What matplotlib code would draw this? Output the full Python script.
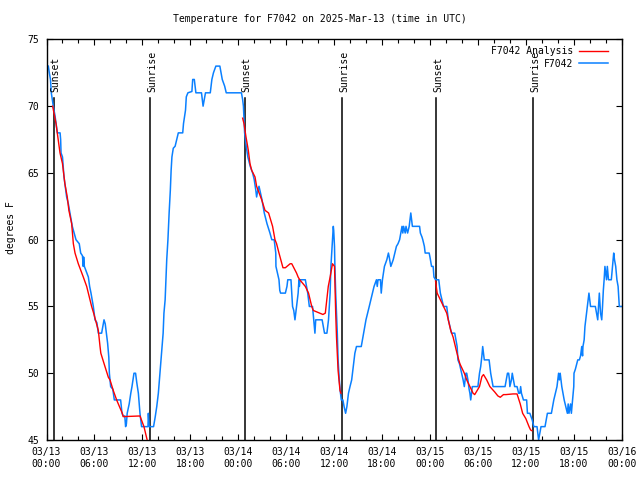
import matplotlib
matplotlib.use("Agg")
import matplotlib.pyplot as plt
import numpy as np

plt.rcParams['font.family'] = ['DejaVu Sans Mono']

title = "Temperature for F7042 on 2025-Mar-13 (time in UTC)"
tick_hours = [0, 6, 12, 18, 24, 30, 36, 42, 48, 54, 60, 66, 72]
tick_labels = ["03/13\n00:00", "03/13\n06:00", "03/13\n12:00", "03/13\n18:00",
               "03/14\n00:00", "03/14\n06:00", "03/14\n12:00", "03/14\n18:00",
               "03/15\n00:00", "03/15\n06:00", "03/15\n12:00", "03/15\n18:00",
               "03/16\n00:00"]
sun_hours = [0.91, 13.0, 24.79, 37.04, 48.79, 60.91]
sun_labels = ["Sunset", "Sunrise", "Sunset", "Sunrise", "Sunset", "Sunrise"]

obs_h = [0.23,0.35,0.5,0.6,0.73,0.85,1.06,1.36,1.7,1.77,1.82,2.0,2.19,2.52,2.73,2.94,3.23,3.69,4.1,4.28,4.5,4.6,4.65,4.74,5.24,5.4,5.57,5.86,6.07,6.3,6.49,6.9,7.05,7.2,7.35,7.45,7.65,7.8,7.87,8.03,8.3,8.49,9.28,9.45,9.6,9.8,9.9,10.0,10.1,10.35,10.55,10.7,10.95,11.15,11.3,11.5,11.7,11.8,11.9,12.7,12.75,12.85,13.4,13.6,13.8,14.0,14.2,14.4,14.6,14.7,14.85,14.95,15.05,15.2,15.35,15.5,15.6,15.7,15.87,16.1,16.3,16.5,17.05,17.15,17.4,17.5,17.7,18.2,18.3,18.5,18.7,19.4,19.5,19.6,19.75,19.9,20.5,20.6,20.7,20.9,21.2,21.7,21.85,22.0,22.3,22.5,24.4,
         24.55,24.65,24.72,24.8,24.9,25.0,25.2,25.5,25.8,26.0,26.2,26.3,26.45,26.6,26.75,26.97,27.26,27.6,27.97,28.2,28.5,28.7,28.72,29.1,29.2,29.3,29.9,30.1,30.2,30.6,30.7,30.8,30.95,31.1,31.2,31.3,31.4,31.5,31.6,31.65,31.75,32.4,32.55,32.7,32.9,33.3,33.45,33.6,33.7,34.5,34.65,34.8,35.1,35.2,35.3,35.4,35.5,35.6,35.7,35.8,35.9,35.95,36.05,36.1,36.2,36.3,36.4,36.5,36.65,36.8,36.9,37.1,37.25,37.44,37.6,37.8,37.99,38.2,38.4,38.6,38.8,39.4,39.55,39.7,39.85,39.99,40.2,40.4,40.6,40.8,41.0,41.3,41.4,41.5,41.8,41.9,42.05,42.3,42.6,42.8,42.9,43.1,43.4,43.6,43.8,44.0,44.2,44.35,44.5,44.6,44.7,44.9,45.0,45.2,45.4,45.5,45.6,45.7,45.8,46.7,46.8,47.0,47.1,47.3,47.4,47.9,48.0,
         48.2,48.4,48.5,48.7,49.1,49.2,49.3,49.5,49.7,50.1,50.2,50.3,50.5,50.7,51.1,51.25,51.4,51.5,51.7,51.96,52.15,52.3,52.4,52.5,52.6,52.75,52.9,53.0,53.1,53.2,53.3,54.0,54.2,54.35,54.5,54.6,54.7,54.8,55.4,55.5,55.6,55.75,55.9,57.4,57.55,57.7,57.85,57.95,58.0,58.2,58.3,58.45,58.6,58.9,59.1,59.25,59.35,59.45,59.7,60.1,60.2,60.5,60.8,61.0,61.4,61.5,61.6,61.75,61.9,62.4,62.55,62.7,63.2,63.35,63.5,63.7,63.9,64.0,64.1,64.2,64.3,64.4,64.5,64.65,64.8,65.0,65.2,65.3,65.4,65.6,65.7,65.85,66.0,66.03,66.2,66.5,66.7,66.85,67.0,67.1,67.15,67.3,67.4,67.5,67.65,67.8,67.9,68.0,68.1,68.7,68.85,69.0,69.1,69.2,69.35,69.5,69.6,69.7,69.8,69.9,70.0,70.1,70.2,70.35,70.7,70.85,71.0,71.1,71.25,71.4,71.55,71.7,72.0]
obs_t = [73.0,72.5,72.0,71.0,70.5,70.0,69.3,68.0,68.0,67.5,66.5,66.2,64.7,63.2,62.7,62.0,61.0,60.0,59.7,59.0,58.8,58.0,58.7,58.0,57.2,56.5,56.0,55.0,54.0,53.8,53.0,53.0,53.5,54.0,53.7,53.2,52.25,51.2,50.0,49.0,48.8,48.0,48.0,47.0,46.8,46.8,46.0,46.2,47.0,47.7,48.5,49.0,50.0,50.0,49.3,48.5,47.0,46.5,46.0,46.0,47.0,46.0,46.0,46.7,47.5,48.5,50.0,51.5,53.0,54.5,55.5,57.0,58.5,60.0,62.0,63.7,65.2,66.2,66.85,67.0,67.5,68.0,68.0,68.7,69.7,70.7,71.0,71.1,72.0,72.0,71.0,71.0,70.5,70.0,70.5,71.0,71.0,71.5,72.0,72.5,73.0,73.0,72.5,72.0,71.5,71.0,71.0,
         70.5,70.0,69.0,68.0,67.5,67.0,66.2,65.5,65.0,64.5,63.7,63.2,63.7,64.0,63.6,63.0,62.0,61.2,60.5,60.0,60.0,59.0,58.0,57.0,56.2,56.0,56.0,56.5,57.0,57.0,56.0,55.0,54.7,54.0,54.5,55.0,55.5,56.0,57.0,56.5,57.0,57.0,56.5,56.0,55.0,55.0,54.0,53.0,54.0,54.0,53.5,53.0,53.0,53.5,54.0,55.0,56.0,58.0,59.0,60.0,61.0,60.7,59.5,58.0,56.0,54.5,53.0,51.0,49.5,48.5,48.0,48.0,47.5,47.0,47.5,48.5,49.0,49.5,50.5,51.5,52.0,52.0,52.5,53.0,53.5,54.0,54.5,55.0,55.5,56.0,56.5,57.0,56.5,57.0,57.0,56.0,57.0,58.0,58.5,59.0,58.7,58.0,58.5,59.0,59.5,59.7,60.0,60.5,61.0,60.5,61.0,60.5,61.0,60.5,61.0,61.5,62.0,61.5,61.0,61.0,60.5,60.2,60.0,59.5,59.0,59.0,58.7,
         58.0,58.0,57.2,57.0,57.0,56.5,56.0,55.5,55.0,55.0,54.5,54.0,53.5,53.0,53.0,52.5,52.0,51.0,50.7,50.0,49.5,49.0,49.5,50.0,50.0,49.5,48.8,48.5,48.0,48.5,49.0,49.0,50.0,50.5,51.3,52.0,51.5,51.0,51.0,50.5,50.0,49.5,49.0,49.0,49.5,50.0,50.0,49.5,49.0,49.5,50.0,49.5,49.0,49.0,48.5,48.5,49.0,48.5,48.0,48.0,47.0,47.0,46.5,46.0,46.0,45.5,45.0,45.5,46.0,46.0,46.5,47.0,47.0,47.5,48.0,48.5,49.0,49.5,50.0,49.5,50.0,49.5,49.0,48.5,48.0,47.5,47.0,47.7,47.0,47.7,47.0,48.0,49.0,50.0,50.3,51.0,51.0,51.3,52.0,51.3,52.0,52.5,53.5,54.0,54.8,55.5,56.0,55.5,55.0,55.0,54.5,54.0,55.0,56.0,54.5,54.0,55.0,56.2,57.0,58.0,57.5,57.0,58.0,57.0,57.0,58.0,59.0,58.5,58.0,57.0,56.5,55.0,55.0]

an1_h = [0.77,1.19,1.69,2.0,2.1,2.3,2.6,2.8,3.15,3.36,3.57,3.98,4.61,5.03,5.65,5.9,6.49,6.7,6.8,7.32,7.74,7.95,8.36,8.78,8.99,9.49,9.6,11.7,12.2,12.5,12.6,12.75]
an1_t = [70.0,68.7,66.5,65.7,65.2,64.2,63.2,62.2,61.2,59.7,59.0,58.2,57.2,56.5,55.0,54.5,53.2,52.0,51.5,50.5,49.7,49.5,48.7,48.0,47.7,47.0,46.75,46.8,46.0,45.25,45.0,44.7]
an2_h = [24.55,24.72,24.97,25.26,25.47,25.68,26.1,26.3,26.93,27.35,27.8,28.3,28.6,28.8,29.1,29.6,29.9,30.1,30.5,30.7,31.3,31.5,31.7,32.4,32.8,33.2,33.4,34.2,34.6,34.9,35.27,35.5,35.8,36.05,36.2,36.3,36.5,36.74,36.86]
an2_t = [69.1,68.7,67.7,66.7,65.7,65.2,64.7,64.0,63.0,62.2,62.0,61.0,60.0,59.7,59.0,57.9,57.9,58.0,58.2,58.2,57.5,57.2,57.0,56.5,56.0,55.0,54.7,54.5,54.4,54.5,56.5,57.2,58.2,58.0,54.5,52.7,50.2,48.7,48.5]
an3_h = [48.7,48.9,49.7,50.1,50.6,50.9,51.3,51.6,51.75,52.3,52.6,53.0,53.4,53.6,54.2,54.5,54.7,55.1,55.5,56.1,56.5,56.8,57.2,57.5,58.4,58.9,59.3,59.6,60.0,60.4,60.6,60.75]
an3_t = [56.9,56.0,55.0,54.5,53.2,52.7,51.7,51.0,50.7,50.0,49.5,49.0,48.5,48.4,49.0,49.75,49.9,49.5,49.0,48.6,48.3,48.2,48.4,48.4,48.45,48.45,47.7,47.0,46.6,46.0,45.75,45.7]

RED = '#ff0000'
BLUE = '#0a80ff'

fig = plt.figure(figsize=(6.4, 4.8), dpi=100)
ax = fig.add_axes([46.5/640, 40/480, (621.7-46.5)/640, (440-39.4)/480])

for sh, sl in zip(sun_hours, sun_labels):
    ax.plot([sh, sh], [0, 0.8525], color='black', lw=1.1,
            transform=ax.get_xaxis_transform(), zorder=1)
    ax.text(sh + 0.25, 0.8675, sl, rotation=90, ha='center', va='bottom',
            fontsize=7, transform=ax.get_xaxis_transform())

ax.plot(obs_h, obs_t, color=BLUE, lw=1.1, zorder=2)
l1, = ax.plot(an1_h, an1_t, color=RED, lw=1.0, zorder=3)
ax.plot(an2_h, an2_t, color=RED, lw=1.0, zorder=3)
ax.plot(an3_h, an3_t, color=RED, lw=1.0, zorder=3)
l2, = ax.plot([], [], color=BLUE, lw=1.1)

ax.set_xlim(0, 72)
ax.set_ylim(45, 75)
ax.set_xticks(tick_hours)
ax.set_xticklabels(tick_labels, fontsize=7)
ax.set_xticks(np.arange(0, 73, 2), minor=True)
ax.set_yticks([45, 50, 55, 60, 65, 70, 75])
ax.set_yticklabels(['45', '50', '55', '60', '65', '70', '75'], fontsize=7)
ax.tick_params(which='both', direction='in', top=True, right=True, width=0.8)
ax.tick_params(which='major', length=4, pad=5)
ax.tick_params(which='minor', length=3)
for s in ax.spines.values():
    s.set_linewidth(1.0)

fig.text(11/640, 1 - 228/480, 'degrees F', rotation=90, ha='center', va='center', fontsize=7)
fig.text(0.5, 1 - 19/480, title, ha='center', va='center', fontsize=7)

leg = ax.legend([l1, l2], ['F7042 Analysis', 'F7042'], loc='upper right',
                bbox_to_anchor=(0.988, 1.0),
                frameon=False, fontsize=7, markerfirst=False, handlelength=3.0,
                handletextpad=0.6, borderaxespad=0.3, labelspacing=0.25)

fig.savefig('out.png', dpi=100)
